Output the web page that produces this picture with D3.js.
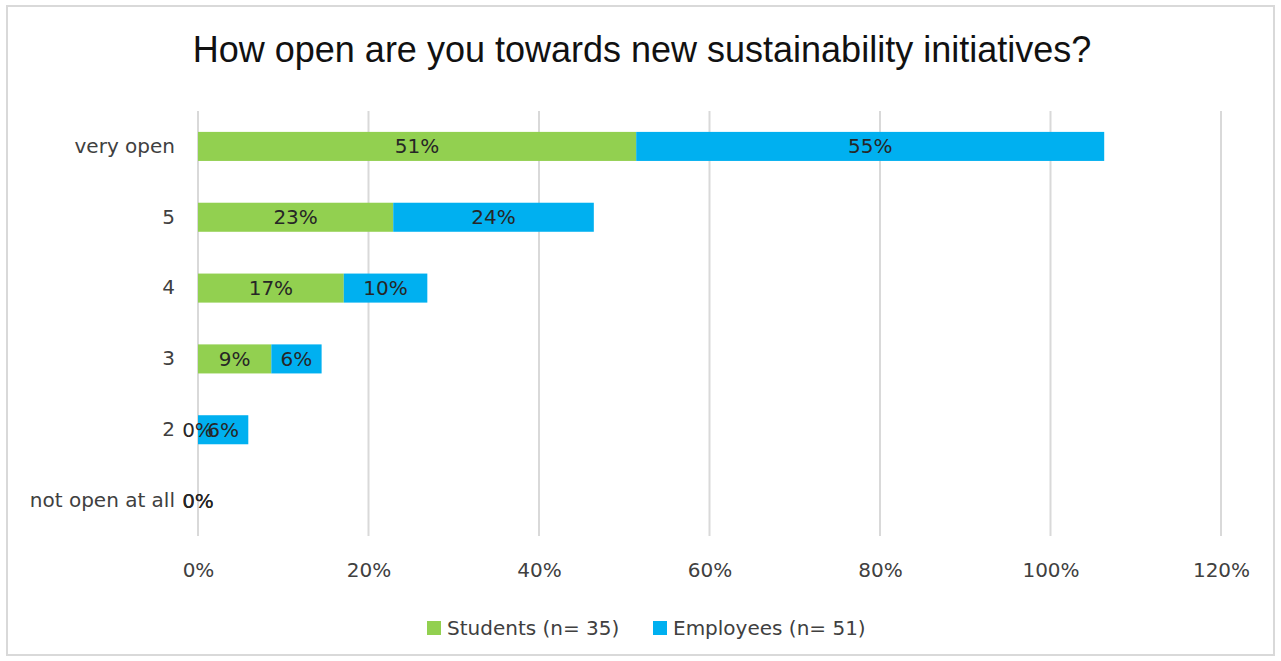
<!DOCTYPE html>
<html><head><meta charset="utf-8">
<script src="https://cdn.jsdelivr.net/npm/d3@7"></script>
<style>html,body{margin:0;padding:0;background:#fff;}svg{display:block;}</style>
</head><body>
<svg id="chart" width="1281" height="661"></svg>
<script>
const categories = ["very open","5","4","3","2","not open at all"];
const seriesNames = ["Students (n= 35)","Employees (n= 51)"];
const students = [0.514, 0.229, 0.171, 0.086, 0, 0];
const employees = [0.549, 0.2353, 0.098, 0.059, 0.059, 0];
const tickValues = [0,0.2,0.4,0.6,0.8,1.0,1.2];
const colors = ["#92d050","#00b0f0"];
const title = "How open are you towards new sustainability initiatives?";

const svg = d3.select("#chart");
const font = "'DejaVu Sans', sans-serif";
svg.append("rect").attr("x",7).attr("y",6).attr("width",1267).attr("height",649)
  .attr("fill","#fff").attr("stroke","#d9d9d9").attr("stroke-width",2);

svg.append("text").attr("x",642).attr("y",62).attr("text-anchor","middle")
  .attr("font-family","'Liberation Sans', Arial, sans-serif").attr("font-size",36).attr("fill","#111").text(title);

const x = d3.scaleLinear().domain([0,1.2]).range([198,1221]);
const y = d3.scaleBand().domain(categories).range([111,536]).paddingInner(0.59).paddingOuter(0.295);

// gridlines
svg.append("g").selectAll("line").data(tickValues).join("line")
  .attr("x1",d=>x(d)).attr("x2",d=>x(d)).attr("y1",111).attr("y2",536)
  .attr("stroke","#d9d9d9").attr("stroke-width",2);

// x axis labels
const xAxis = d3.axisBottom(x).tickValues(tickValues).tickSize(0).tickPadding(0)
  .tickFormat(d=>Math.round(d*100)+"%");
const gx = svg.append("g").attr("transform","translate(0,570)").call(xAxis);
gx.select(".domain").remove();
gx.selectAll("text").attr("font-family",font).attr("font-size",20).attr("fill","#404040").attr("dy","0.35em");

// y axis labels
const yAxis = d3.axisLeft(y).tickSize(0).tickPadding(0);
const gy = svg.append("g").attr("transform","translate(175,0)").call(yAxis);
gy.select(".domain").remove();
gy.selectAll("text").attr("font-family",font).attr("font-size",20).attr("fill","#404040");

// stacked bars
const rows = categories.map((c,i)=>({cat:c, s:students[i], e:employees[i]}));
const stack = d3.stack().keys(["s","e"])(rows);
const g = svg.append("g");
stack.forEach((layer,li)=>{
  g.append("g").selectAll("rect").data(layer).join("rect")
    .attr("x",d=>x(d[0])).attr("width",d=>x(d[1])-x(d[0]))
    .attr("y",d=>y(d.data.cat)).attr("height",y.bandwidth())
    .attr("fill",colors[li]);
});
stack.forEach((layer,li)=>{
  const key = layer.key;
  g.append("g").selectAll("text").data(layer).join("text")
    .attr("x",d=>(x(d[0])+x(d[1]))/2).attr("y",d=>y(d.data.cat)+y.bandwidth()/2)
    .attr("dy","0.35em").attr("text-anchor","middle")
    .attr("font-family",font).attr("font-size",20).attr("fill","#262626")
    .text(d=>Math.round(d.data[key]*100)+"%");
});

// legend
const legend = svg.append("g");
const lx = [427, 653];
seriesNames.forEach((n,i)=>{
  legend.append("rect").attr("x",lx[i]).attr("y",621).attr("width",14).attr("height",14).attr("fill",colors[i]);
  legend.append("text").attr("x",lx[i]+20).attr("y",628).attr("dy","0.35em")
    .attr("font-family",font).attr("font-size",20).attr("fill","#404040").text(n);
});
</script>
</body></html>
